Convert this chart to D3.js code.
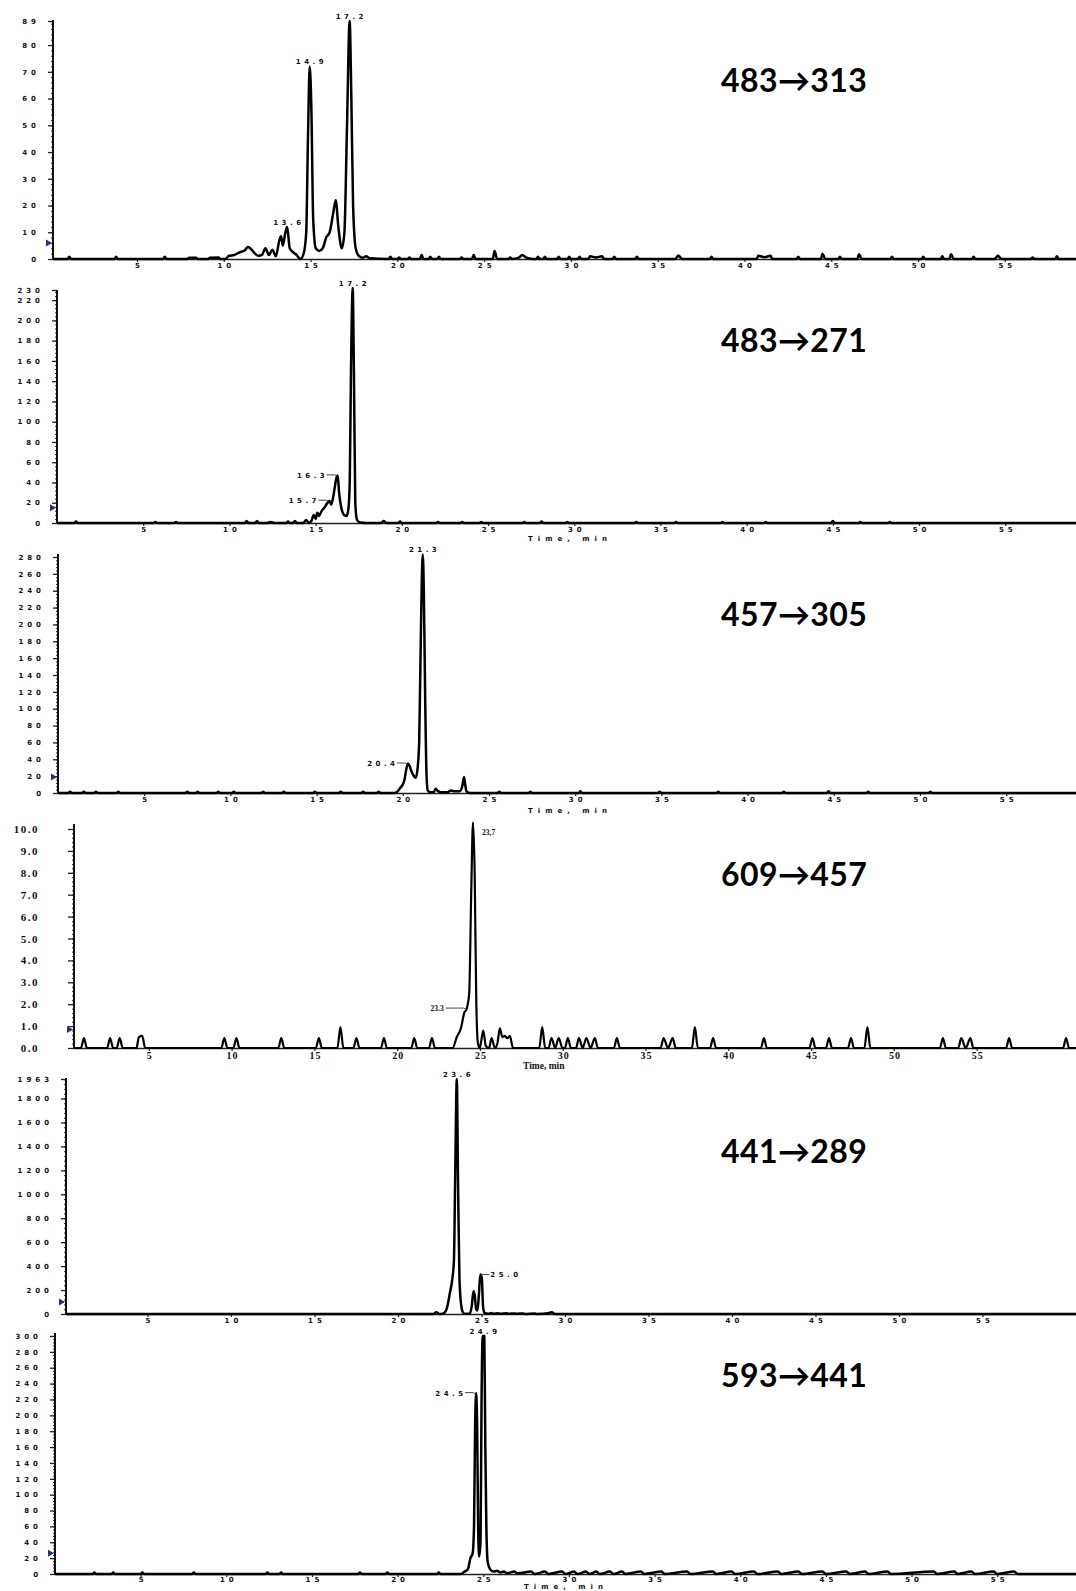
<!DOCTYPE html>
<html>
<head>
<meta charset="utf-8">
<script src="https://cdn.jsdelivr.net/npm/d3@7"></script>
<style>
	body { margin: 0; background: #fff; }
	svg { display: block; }
</style>
</head>
<body>
<div id="chart"></div>
<script>
"use strict";

const width = 1076, height = 1591;

//  Data: MRM transitions
const transitions = ['483→313', '483→271', '457→305', '609→457', '441→289', '593→441'];

const xTicks = [5, 10, 15, 20, 25, 30, 35, 40, 45, 50, 55];

const yMaxValues = [89, 230, 280, 10, 1963, 300];

const yTicks313 = [0, 10, 20, 30, 40, 50, 60, 70, 80, 89];
const yTicks271 = [0, 20, 40, 60, 80, 100, 120, 140, 160, 180, 200, 220, 230];
const yTicks305 = [0, 20, 40, 60, 80, 100, 120, 140, 160, 180, 200, 220, 240, 260, 280];
const yTicks457 = [0, 1, 2, 3, 4, 5, 6, 7, 8, 9, 10];
const yTicks289 = [0, 200, 400, 600, 800, 1000, 1200, 1400, 1600, 1800, 1963];
const yTicks441 = [0, 20, 40, 60, 80, 100, 120, 140, 160, 180, 200, 220, 240, 260, 280, 300];

//  [time (min), intensity]
const trace313 = [
	[0.16,0],[1.0,0],[1.1,0.8],[1.2,0],[3.7,0],[3.8,0.8],[3.9,0],[6.5,0],[6.6,0.8],[6.7,0],
	[7.9,0],[8.0,0.5],[8.4,0.5],[8.5,0],[9.1,0],[9.2,0.5],[9.7,0.6],[9.8,0],[10.1,0],[10.3,1.2],
	[10.6,1.5],[10.9,2.5],[11.2,3.2],[11.4,4.5],[11.6,3.5],[11.8,2],[12.0,1.2],[12.2,1.5],[12.4,4],
	[12.6,1.5],[12.8,3.5],[13.0,1],[13.2,7],[13.3,8.5],[13.4,5],[13.55,10],[13.65,12],[13.8,4],
	[14.0,2.5],[14.2,1.5],[14.4,0],[14.6,2],[14.75,10],[14.85,45],[14.95,72],[15.05,55],[15.15,15],
	[15.3,4],[15.5,3],[15.7,4],[15.9,8],[16.1,10],[16.3,17],[16.45,22],[16.6,12],[16.8,4],[16.95,10],
	[17.1,50],[17.25,89],[17.35,60],[17.45,20],[17.6,4],[17.8,1],[18.0,0.5],[18.2,1],[18.4,0.3],
	[19.5,0],[19.6,0.8],[19.7,0],[20.0,0],[20.1,0.6],[20.2,0],[20.6,0],[20.7,0.6],[20.8,0],
	[21.3,0],[21.4,1.5],[21.5,0],[21.8,0],[21.9,0.8],[22.0,0],[22.3,0],[22.4,0.8],[22.5,0],
	[23.6,0],[23.7,0.6],[23.8,0],[24.3,0],[24.4,1.5],[24.5,0],[25.5,0],[25.6,3],[25.75,0],
	[26.4,0],[26.5,0.6],[26.6,0],[27.0,0.5],[27.2,1.5],[27.4,0.6],[27.8,0],[28.0,0],[28.1,0.8],
	[28.2,0],[28.4,0],[28.5,0.8],[28.6,0],[29.2,0],[29.3,0.8],[29.4,0],[29.8,0],[29.9,0.8],[30.0,0],
	[30.4,0],[30.5,0.8],[30.6,0],[31.0,0],[31.1,1],[31.45,0.6],[31.8,1],[31.9,0],[32.4,0],[32.5,0.8],[32.6,0],
	[33.7,0],[33.8,0.8],[33.9,0],[36.0,0],[36.2,1.3],[36.4,0],[38.0,0],[38.1,0.8],[38.2,0],
	[40.7,0],[40.8,1.2],[41.15,0.7],[41.5,1.2],[41.6,0],[43.0,0],[43.1,0.8],[43.2,0],[44.4,0],[44.5,2],[44.65,0],
	[45.4,0],[45.5,0.8],[45.6,0],[46.5,0],[46.6,1.8],[46.75,0],[48.4,0],[48.5,0.8],[48.6,0],
	[50.2,0],[50.3,0.8],[50.4,0],[51.3,0],[51.4,1],[51.5,0],[51.8,0],[51.9,1.8],[52.05,0],
	[53.1,0],[53.2,0.8],[53.3,0],[54.4,0],[54.6,1.2],[54.8,0],[56.5,0],[56.6,0.6],[56.7,0],
	[57.9,0],[58.0,1],[58.1,0],[59.1,0]
];

const trace271 = [
	[0,0],[1.0,0],[1.1,1.5],[1.2,0],[5.6,0],[5.7,1],[5.8,0],[6.8,0],[6.9,1],[7.0,0],[10.9,0],
	[11.0,2],[11.1,0],[11.5,0],[11.6,2],[11.7,0],[12.2,0],[12.4,1],[12.6,0],[13.3,0],[13.4,1.5],
	[13.5,0],[13.7,0],[13.8,2],[13.9,0],[14.3,0],[14.45,3],[14.6,0],[14.75,2],[14.9,8],[15.0,4],
	[15.1,10],[15.2,7],[15.35,12],[15.5,15],[15.65,19],[15.8,22],[15.9,18],[16.0,24],[16.1,34],
	[16.2,44],[16.28,47],[16.36,30],[16.5,14],[16.65,8],[16.8,7],[16.9,14],[16.98,42],[17.05,150],
	[17.15,232],[17.22,150],[17.3,20],[17.4,3],[17.6,0.5],[18.0,0],[18.8,0],[18.95,2],[19.1,0],
	[19.8,0],[19.9,1.5],[20.0,0],[22.0,0],[22.1,1],[22.2,0],[23.4,0],[23.5,1],[23.6,0],[24.5,0],
	[24.6,1],[24.7,0],[27.0,0],[27.1,1],[27.2,0],[28.0,0],[28.1,1.5],[28.2,0],[29.5,0],[29.6,1],
	[29.7,0],[33.5,0],[33.6,1],[33.7,0],[35.8,0],[35.9,1],[36.0,0],[38.5,0],[38.6,1],[38.7,0],
	[41.0,0],[41.1,1],[41.2,0],[44.9,0],[45.0,2],[45.1,0],[46.5,0],[46.6,1],[46.7,0],[48.2,0],
	[48.3,1],[48.4,0],[59.1,0]
];

const trace305 = [
	[0,0],[0.6,0],[0.7,1.5],[0.8,0],[1.4,0],[1.5,1.5],[1.6,0],[2.1,0],[2.2,1.5],[2.3,0],[3.4,0],
	[3.5,1.5],[3.6,0],[7.4,0],[7.5,1.5],[7.6,0],[8.0,0],[8.1,1.5],[8.2,0],[9.2,0],[9.3,1.5],[9.4,0],
	[10.1,0],[10.2,1.5],[10.3,0],[11.8,0],[11.9,1.5],[12.0,0],[13.0,0],[13.1,1.5],[13.2,0],[14.8,0],
	[14.9,1.5],[15.0,0],[16.3,0],[16.4,1.5],[16.5,0],[17.6,0],[17.7,1.5],[17.8,0],[18.5,0],[18.6,1.5],
	[18.7,0],[19.5,0],[19.7,2],[19.85,6],[20.0,10],[20.1,16],[20.2,28],[20.3,35],[20.4,32],[20.5,26],
	[20.65,20],[20.75,18],[20.85,28],[20.95,60],[21.02,150],[21.1,250],[21.16,283],[21.22,240],
	[21.3,110],[21.38,20],[21.45,3],[21.6,1],[21.8,1],[21.9,5],[22.0,3],[22.2,1],[22.6,1],[22.8,3],
	[23.0,2],[23.3,2],[23.45,8],[23.55,19],[23.62,10],[23.7,2],[23.9,0],[25.5,0],[25.6,1.5],[25.7,0],
	[27.3,0],[27.4,1.5],[27.5,0],[30.2,0],[30.3,2],[30.4,0],[34.8,0],[34.9,1.5],[35.0,0],[38.2,0],
	[38.3,1.5],[38.4,0],[42.0,0],[42.1,1.5],[42.2,0],[44.6,0],[44.7,2],[44.8,0],[46.9,0],[47.0,1.5],
	[47.1,0],[50.5,0],[50.6,1.5],[50.7,0],[59.1,0]
];

const trace457 = [
	[0.48,0],[0.9,0],[1.08,0.45],[1.26,0],[2.48,0],[2.66,0.45],[2.84,0],[3.06,0],[3.24,0.45],
	[3.42,0],[4.25,0],[4.4,0.5],[4.6,0.55],[4.78,0],[9.38,0],[9.56,0.45],[9.74,0],[10.11,0],
	[10.29,0.45],[10.47,0],[12.82,0],[13.0,0.45],[13.18,0],[15.09,0],[15.27,0.45],[15.45,0],
	[16.39,0],[16.57,0.95],[16.75,0],[17.36,0],[17.54,0.45],[17.72,0],[19.02,0],[19.2,0.45],
	[19.38,0],[20.85,0],[21.03,0.45],[21.21,0],[21.92,0],[22.1,0.45],[22.28,0],[23.35,0],[23.6,0.5],
	[23.85,0.9],[24.05,1.6],[24.2,1.8],[24.35,2.5],[24.47,7],[24.58,10.3],[24.68,8],[24.78,2],
	[24.88,0.2],[24.98,0],[25.05,0.2],[25.2,0.8],[25.35,0.1],[25.55,0],[25.7,0.45],[25.9,0],
	[26.05,0.2],[26.2,0.9],[26.35,0.5],[26.5,0.55],[26.65,0.45],[26.8,0.55],[27.0,0],[28.58,0],
	[28.76,0.95],[28.94,0],[29.14,0],[29.32,0.45],[29.54,0],[29.76,0.45],[29.98,0],[30.13,0],
	[30.31,0.45],[30.49,0],[30.8,0],[30.98,0.45],[31.2,0],[31.43,0.45],[31.68,0],[31.94,0.45],
	[32.12,0],[33.09,0],[33.27,0.45],[33.45,0],[35.91,0],[36.09,0.45],[36.36,0],[36.64,0.45],
	[36.82,0],[37.8,0],[37.98,0.95],[38.16,0],[38.9,0],[39.08,0.45],[39.26,0],[41.97,0],[42.15,0.45],
	[42.33,0],[44.9,0],[45.08,0.45],[45.26,0],[45.9,0],[46.08,0.45],[46.26,0],[47.23,0],[47.41,0.45],
	[47.59,0],[48.22,0],[48.4,0.95],[48.58,0],[52.78,0],[52.96,0.45],[53.14,0],[53.89,0],[54.07,0.45],
	[54.34,0],[54.62,0.45],[54.8,0],[56.78,0],[56.96,0.45],[57.14,0],[60.22,0],[60.4,0.45],[60.58,0],
	[61.0,0]
];

const trace289 = [
	[0.12,0],[22.1,0],[22.3,15],[22.5,0],[22.75,8],[22.95,60],[23.1,170],[23.25,290],[23.35,450],
	[23.43,1200],[23.52,1963],[23.6,1050],[23.68,300],[23.78,80],[23.9,10],[24.0,2],[24.3,2],
	[24.42,70],[24.52,190],[24.6,150],[24.68,40],[24.76,30],[24.84,150],[24.93,330],[25.02,300],
	[25.1,50],[25.2,8],[25.4,3],[25.6,8],[25.7,3],[26.0,6],[26.1,2],[26.5,6],[26.6,2],[27.0,5],
	[27.1,2],[27.5,5],[27.6,1],[28.2,5],[28.3,1],[29.0,6],[29.2,15],[29.4,1],[30.0,0],[60.6,0]
];

const trace441 = [
	[0,0],[2.2,0],[2.3,2],[2.4,0],[3.3,0],[3.4,2],[3.5,0],[5.0,0],[5.1,2],[5.2,0],[8.0,0],[8.1,2],
	[8.2,0],[12.3,0],[12.4,2],[12.5,0],[13.1,0],[13.2,2],[13.3,0],[17.7,0],[17.8,2],[17.9,0],
	[19.3,0],[19.4,2],[19.5,0],[22.3,0],[22.4,2],[22.5,0],[23.7,0],[23.9,3],[24.1,6],[24.25,20],
	[24.38,26],[24.46,60],[24.52,180],[24.58,228],[24.64,190],[24.7,60],[24.76,22],[24.84,40],
	[24.9,220],[24.97,300],[25.06,300],[25.12,160],[25.18,60],[25.26,15],[25.4,6],[25.6,3],
	[25.8,4],[26.0,2],[26.2,3],[26.4,1],[26.8,3],[27.0,1],[27.8,3],[28.0,0],[28.6,3],[28.8,0],
	[29.6,3],[29.8,0],[30.3,3],[30.5,0],[31.0,3],[31.2,0],[31.6,3],[31.8,0],[32.4,3],[32.6,0],
	[33.1,3],[33.3,0],[34.2,3],[34.4,0],[35.4,3],[35.6,0],[36.9,3],[37.1,0],[38.4,3],[38.6,0],
	[39.5,3],[39.7,0],[40.8,3],[41.0,0],[42.2,3],[42.4,0],[43.4,3],[43.6,0],[44.8,3],[45.0,0],
	[46.2,3],[46.4,0],[47.3,3],[47.5,0],[48.6,3],[48.8,0],[51.3,3],[51.5,0],[52.5,3],[52.7,0],
	[53.5,3],[53.7,0],[54.8,3],[55.0,0],[56.0,3],[56.2,0],[59.6,0]
];

//  [time, intensity, label]
const peaks313 = [[17.25, 89, '17.2'], [14.95, 72, '14.9'], [13.65, 12, '13.6']];
const peaks271 = [[17.15, 232, '17.2'], [16.28, 47, '16.3'], [15.8, 22, '15.7']];
const peaks305 = [[21.16, 283, '21.3'], [20.3, 35, '20.4']];
const peaks457 = [[24.58, 10.3, '23,7'], [24.2, 1.8, '23.3']];
const peaks289 = [[23.52, 1963, '23.6'], [24.93, 330, '25.0']];
const peaks441 = [[25.0, 300, '24.9'], [24.58, 228, '24.5']];

//  Threshold marker levels (blue arrows on the y axis)
const thresholds = [6, 15, 19, 0.85, 100, 26];

const traces = [trace313, trace271, trace305, trace457, trace289, trace441];
const yTicks = [yTicks313, yTicks271, yTicks305, yTicks457, yTicks289, yTicks441];
const peaks = [peaks313, peaks271, peaks305, peaks457, peaks289, peaks441];

//  Layout of the stacked panels
const layout = [
	{ left: 53, top: 21, bottom: 259, axisTop: 20, t: [0.16, 59.1], labelY: 92, sides: ['top', 'top', 'top'] },
	{ left: 57, top: 290, bottom: 523, axisTop: 290, t: [0, 59.1], labelY: 352, sides: ['top', 'left', 'left'], time: [528, 541] },
	{ left: 58, top: 557, bottom: 793, axisTop: 554, t: [0, 59.05], labelY: 626, sides: ['top', 'left'], time: [528, 813] },
	{ left: 74, top: 829, bottom: 1048, axisTop: 824, t: [0.48, 61.0], labelY: 886, sides: ['rightlow', 'left'], time: [523, 1069], serif: true, leftGap: 23 },
	{ left: 66, top: 1079, bottom: 1314, axisTop: 1078, t: [0.12, 60.6], labelY: 1163, sides: ['top', 'right'] },
	{ left: 55, top: 1336, bottom: 1574, axisTop: 1333, t: [0, 59.6], labelY: 1387, sides: ['top', 'left'], time: [524, 1589], tickPad: 0 }
];

const spacedFont = "'DejaVu Sans', sans-serif";
const serifFont = "'Liberation Serif', 'DejaVu Serif', serif";

let svg = d3.select('#chart').append('svg')
	.attr('width', width)
	.attr('height', height)
	.attr('viewBox', [0, 0, width, height]);

layout.forEach((p, i) =>
{
	let g = svg.append('g');
	let x = d3.scaleLinear().domain(p.t).range([p.left, width]);
	let y = d3.scaleLinear().domain([0, yMaxValues[i]]).range([p.bottom, p.top]);
	let spacing = p.serif ? 1 : 4;

	//  x axis
	let xAxis = g.append('g')
		.attr('transform', `translate(0,${p.bottom})`)
		.call(d3.axisBottom(x).tickValues(xTicks).tickSize(3).tickSizeOuter(0)
			.tickPadding(p.tickPad !== undefined ? p.tickPad : (p.serif ? 1 : 1.5)));
	xAxis.select('.domain').attr('stroke', '#222').attr('stroke-width', 1.6);
	xAxis.selectAll('.tick line').attr('stroke', '#222').attr('stroke-width', 1.2);
	xAxis.selectAll('.tick text')
		.attr('fill', '#111')
		.attr('dx', spacing / 2)
		.style('font-family', p.serif ? serifFont : spacedFont)
		.style('font-size', p.serif ? '10px' : '7px')
		.style('font-weight', 'bold')
		.style('letter-spacing', spacing + 'px');

	//  y axis, minor ticks first
	let step = yTicks[i][1] - yTicks[i][0];
	let minor = d3.range(0, yMaxValues[i], step / 5);
	let yMinor = g.append('g')
		.attr('transform', `translate(${p.left},0)`)
		.call(d3.axisLeft(y).tickValues(minor).tickSize(2).tickFormat(''));
	yMinor.select('.domain').remove();
	yMinor.selectAll('.tick line').attr('stroke', '#333').attr('stroke-width', 1);

	let yAxis = g.append('g')
		.attr('transform', `translate(${p.left},0)`)
		.call(d3.axisLeft(y)
			.tickValues(yTicks[i])
			.tickSize(p.serif ? 6 : 5)
			.tickPadding(p.serif ? 29 : 8)
			.tickFormat(p.serif ? d3.format('.1f') : d3.format('d')));
	yAxis.select('.domain').remove();
	yAxis.selectAll('.tick line').attr('stroke', '#222').attr('stroke-width', 1.3);
	yAxis.selectAll('.tick text')
		.attr('fill', '#111')
		.style('font-family', p.serif ? serifFont : spacedFont)
		.style('font-size', p.serif ? '11px' : '7px')
		.style('font-weight', 'bold')
		.style('letter-spacing', (p.serif ? 1.5 : spacing) + 'px');

	g.append('line')
		.attr('x1', p.left).attr('x2', p.left)
		.attr('y1', p.axisTop).attr('y2', p.bottom)
		.attr('stroke', '#111')
		.attr('stroke-width', 2);

	//  threshold arrow
	let ty = y(thresholds[i]);
	g.append('path')
		.attr('d', `M ${p.left - 7} ${ty - 3.5} L ${p.left - 1} ${ty} L ${p.left - 7} ${ty + 3.5} Z`)
		.attr('fill', '#23307a');

	//  trace
	let line = d3.line()
		.x(d => x(d[0]))
		.y(d => y(d[1]))
		.curve(d3.curveMonotoneX);

	g.append('path')
		.datum(traces[i])
		.attr('d', line)
		.attr('fill', 'none')
		.attr('stroke', '#000')
		.attr('stroke-width', p.serif ? 2.2 : 2.5)
		.attr('stroke-linejoin', 'round');

	//  peak annotations
	let leftGap = p.leftGap || 13;
	peaks[i].forEach((peak, k) =>
	{
		let px = x(peak[0]), py = y(peak[1]);
		let side = p.sides[k];
		let text = g.append('text')
			.text(peak[2])
			.attr('fill', '#111')
			.style('font-family', p.serif ? serifFont : spacedFont)
			.style('font-size', p.serif ? '7.5px' : '7px')
			.style('font-weight', 'bold')
			.style('letter-spacing', (p.serif ? 0 : 3.5) + 'px');

		if (side === 'top')
			text.attr('x', px + 1.75).attr('y', py - 2).attr('text-anchor', 'middle');
		else if (side === 'left')
		{
			text.attr('x', px - leftGap + (p.serif ? 0 : 3.5)).attr('y', py + 2.5).attr('text-anchor', 'end');
			g.append('path')
				.attr('d', `M ${px - leftGap + 2} ${py - 0.5} L ${px - 3} ${py - 0.5} L ${px} ${py + 1}`)
				.attr('fill', 'none').attr('stroke', '#333').attr('stroke-width', 0.9);
		}
		else if (side === 'right')
		{
			text.attr('x', px + 10).attr('y', py + 3).attr('text-anchor', 'start');
			g.append('path')
				.attr('d', `M ${px} ${py + 2} L ${px + 2} ${py} L ${px + 9} ${py}`)
				.attr('fill', 'none').attr('stroke', '#333').attr('stroke-width', 0.9);
		}
		else
			text.attr('x', px + 9).attr('y', py + 13).attr('text-anchor', 'start');
	});

	//  time axis title
	if (p.time)
		g.append('text')
			.text('Time, min')
			.attr('x', p.time[0])
			.attr('y', p.time[1])
			.attr('fill', '#111')
			.style('font-family', p.serif ? serifFont : spacedFont)
			.style('font-size', p.serif ? '9.5px' : '7px')
			.style('font-weight', 'bold')
			.style('letter-spacing', (p.serif ? 0 : 5) + 'px');

	//  transition label
	g.append('text')
		.text(transitions[i])
		.attr('x', 721)
		.attr('y', p.labelY)
		.attr('fill', '#000')
		.style('font-family', "Lato, 'DejaVu Sans', sans-serif")
		.style('font-size', '32px')
		.style('font-weight', 'bold')
		.style('letter-spacing', '0.4px');
});
</script>
</body>
</html>
